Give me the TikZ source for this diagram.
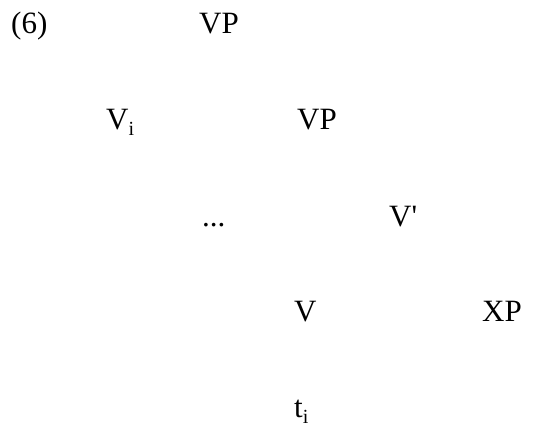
\documentclass[tikz,border=0pt]{standalone}
\usepackage{fontspec}
\newfontfamily\tnr{Liberation Serif}
\newcommand{\sbi}[1]{\raisebox{-6pt}{\fontsize{20}{20}\selectfont #1}}
\tikzset{lbl/.style={anchor=base west, inner sep=0pt, font=\tnr\fontsize{31}{31}\selectfont}}
\begin{document}
\begin{tikzpicture}[x=1pt,y=-1pt]
\useasboundingbox (0,0) rectangle (533,426);
\node[lbl] (n6) at (11,33) {(6)};
\node[lbl] (vp1) at (199,33) {VP};
\node[lbl] (vi) at (106,129) {V\sbi{i}};
\node[lbl] (vp2) at (297,129) {VP};
\node[lbl] (dots) at (202,226) {...};
\node[lbl] (vbar) at (389,226) {V'};
\node[lbl] (v) at (294,321) {V};
\node[lbl] (xp) at (482,321) {XP};
\node[lbl] (ti) at (294,417) {t\sbi{i}};
\end{tikzpicture}
\end{document}
